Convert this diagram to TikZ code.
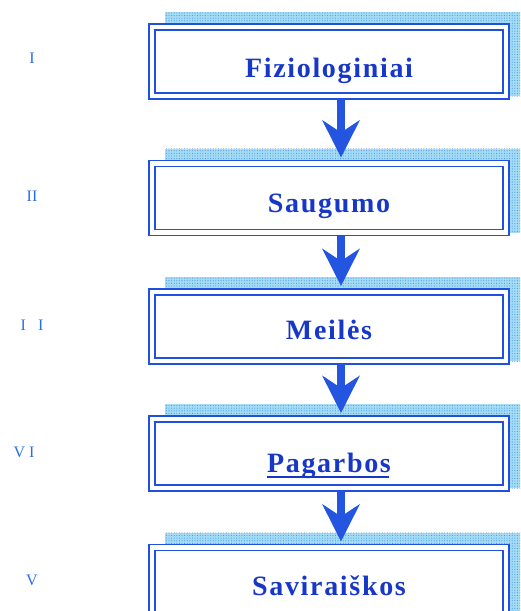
\documentclass[tikz,border=0pt]{standalone}
\usepackage{fontspec}
\setmainfont{Liberation Serif}
\newfontfamily\levelfont[LetterSpace=6]{Liberation Serif}
\usetikzlibrary{arrows.meta,patterns.meta}

\definecolor{framebl}{RGB}{30,80,225}
\definecolor{textbl}{RGB}{22,55,200}
\definecolor{shadebl}{RGB}{165,220,245}
\definecolor{dotbl}{RGB}{70,150,230}
\definecolor{arrowbl}{RGB}{35,85,225}
\definecolor{numbl}{RGB}{40,110,230}

\tikzset{
  levelbox/.style={minimum width=354pt, minimum height=69pt, inner sep=0pt,
    outer sep=0pt, draw=framebl, line width=1.6pt, double=white,
    double distance=4.4pt, fill=white},
  levelgap/.style={minimum width=354pt, minimum height=69pt, inner sep=0pt,
    outer sep=0pt},
  levelshadow/.style={fill=shadebl},
  levelgrain/.style={pattern={Dots[radius=0.55pt,distance=2.6pt]}, pattern color=dotbl},
  leveltext/.style={anchor=base, inner sep=0pt, text=textbl,
    font=\levelfont\bfseries\fontsize{28}{32}\selectfont},
  levelnum/.style={anchor=center, inner sep=0pt, text=numbl,
    font=\fontsize{16}{18}\selectfont},
  flowarrow/.style={draw=arrowbl, line width=8pt,
    -{Stealth[length=37pt,width=37pt,inset=12pt,fill=arrowbl]}},
}

\begin{document}
\begin{tikzpicture}[x=1pt,y=-1pt]
  \useasboundingbox (0,0) rectangle (520,611);
  \clip (0,0) rectangle (520,611);

  % frames of the five levels
  \path (329,61.5) coordinate (c1) (329,198) coordinate (c2)
        (329,326.5) coordinate (c3) (329,453.5) coordinate (c4)
        (329,582) coordinate (c5);
  \foreach \k in {1,...,5}{
    \node[levelgap] (g\k) at (c\k) {};
    \fill[levelshadow] ([xshift=13pt,yshift=15pt]g\k.north west)
      rectangle ([xshift=14pt]g\k.south east);
    \fill[levelgrain] ([xshift=13pt,yshift=15pt]g\k.north west)
      rectangle ([xshift=14pt]g\k.south east);
  }
  \node[levelbox] (b1) at (c1) {};
  \node[levelbox] (b2) at (c2) {};
  \node[levelbox] (b3) at (c3) {};
  \node[levelbox] (b4) at (c4) {};
  \node[levelbox] (b5) at (c5) {};

  % level names
  \node[leveltext] (t1) at (329,77)  {Fiziologiniai};
  \node[leveltext] (t2) at (329,212) {Saugumo};
  \node[leveltext] (t3) at (329,339) {Meilės};
  \node[leveltext] (t4) at (329,472) {Pagarbos};
  \node[leveltext] (t5) at (329,595) {Saviraiškos};
  \draw[textbl, line width=1.4pt]
    ([yshift=-5pt]t4.base west) -- ([yshift=-5pt,xshift=-2pt]t4.base east);

  % arrows between levels
  \draw[flowarrow] ([xshift=12pt,yshift=-3pt]b1.south) -- ([xshift=12pt,yshift=6pt]b2.north);
  \draw[flowarrow] ([xshift=12pt,yshift=-3pt]b2.south) -- ([xshift=12pt,yshift=6pt]b3.north);
  \draw[flowarrow] ([xshift=12pt,yshift=-3pt]b3.south) -- ([xshift=12pt,yshift=6pt]b4.north);
  \draw[flowarrow] ([xshift=12pt,yshift=-3pt]b4.south) -- ([xshift=12pt,yshift=6pt]b5.north);

  % level numbers
  \node[levelnum] (n1) at (32,58)  {I};
  \node[levelnum] (n2) at (32,196) {II};
  \node[levelnum] (n3) at (32,325) {I\hspace{12pt}I};
  \node[levelnum] (n4) at (24,452) {V I};
  \node[levelnum] (n5) at (32,580) {V};
\end{tikzpicture}
\end{document}
